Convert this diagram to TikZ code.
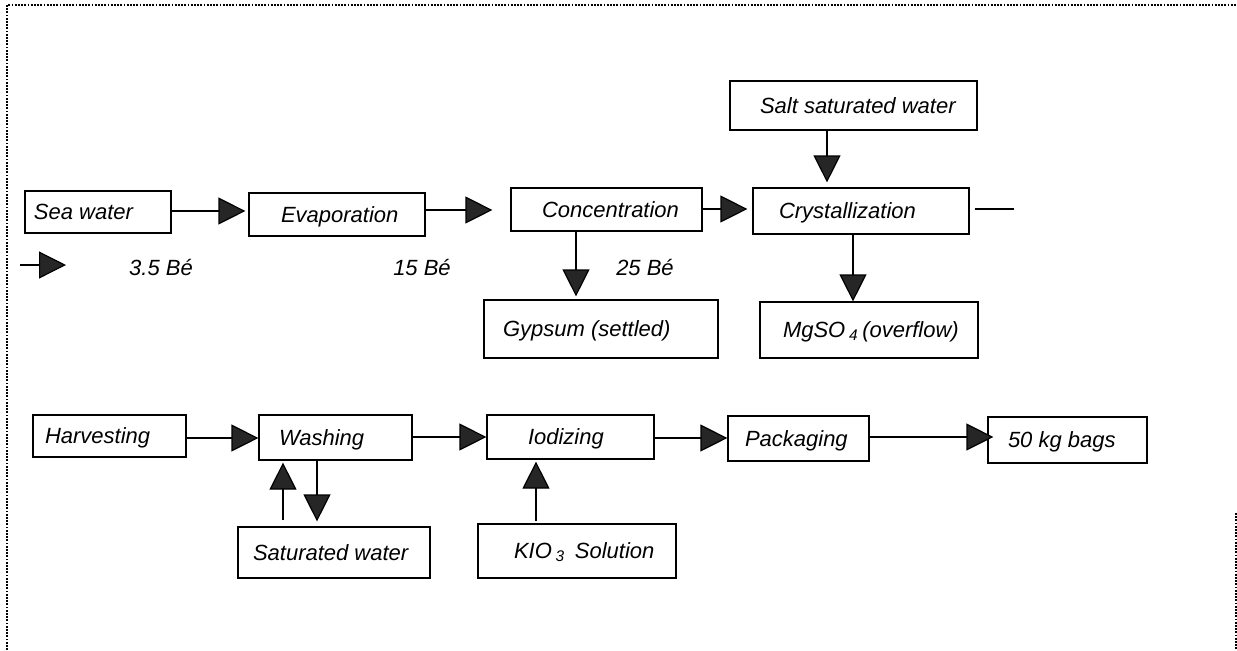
\documentclass[tikz,border=0pt]{standalone}
\usepackage{fontspec}
\setmainfont{Liberation Sans}
\usetikzlibrary{arrows.meta}
% box content: total width #1, text starting #2 from the left edge
\newcommand\procbox[3]{\makebox[#1pt][l]{\hspace*{#2pt}#3}}
\begin{document}
\begin{tikzpicture}[x=0.5pt,y=-0.5pt,
  proc/.style={draw, line width=0.6pt, inner sep=0pt, text height=7.6pt, text depth=-0.4pt,
    font=\itshape\fontsize{11}{13}\selectfont},
  note/.style={inner sep=0pt, text height=7.6pt, text depth=0pt, font=\itshape\fontsize{11}{13}\selectfont},
  flow/.style={line width=0.6pt, -{Triangle[length=13.5pt,width=13.5pt,fill=black!85]}},
  plain/.style={line width=0.6pt},
  frame/.style={line width=0.9pt, dash pattern=on 0.9pt off 0.7pt}]
\useasboundingbox (0,0) rectangle (1237,650);

% dotted frame
\coordinate (fbl) at (7,650);
\coordinate (ftl) at (7,5);
\coordinate (ftr) at (1236,5);
\coordinate (frt) at (1236,513);
\coordinate (frb) at (1236,650);
\draw[frame] (fbl) -- (ftl) -- (ftr);
\draw[frame] (frt) -- (frb);

% upper process line
\node[proc, minimum height=21pt]   (sea)   at (98,212)     {\procbox{73}{4.5}{Sea water}};
\node[proc, minimum height=21.5pt] (evap)  at (337,214.5)  {\procbox{88}{16}{Evaporation}};
\node[proc, minimum height=21.5pt] (conc)  at (606.5,209.5){\procbox{95.5}{15.5}{Concentration}};
\node[proc, minimum height=23pt]   (cryst) at (861,211)    {\procbox{108}{13}{Crystallization}};
\node[proc, minimum height=24.5pt] (salt)  at (853.5,105.5){\procbox{123.5}{15}{Salt saturated water}};
\node[proc, minimum height=29pt]   (gyps)  at (601,329)    {\procbox{117}{9.5}{Gypsum (settled)}};
\node[proc, minimum height=28pt]   (mgso)  at (869,330)    {\procbox{109}{11.5}{MgSO\,\textsubscript{4}\,(overflow)}};

% density labels
\node[note] (be1) at (161,268) {3.5 Bé};
\node[note] (be2) at (422,268) {15 Bé};
\node[note] (be3) at (645,268) {25 Bé};

% lower process line
\node[proc, minimum height=21pt]   (harv) at (109.5,436)  {\procbox{76.5}{6}{Harvesting}};
\node[proc, minimum height=22.5pt] (wash) at (335.5,437.5){\procbox{76.5}{10}{Washing}};
\node[proc, minimum height=22pt]   (iod)  at (570.5,437)  {\procbox{83.5}{20.5}{Iodizing}};
\node[proc, minimum height=22.5pt] (pack) at (798.5,438.5){\procbox{70.5}{8.5}{Packaging}};
\node[proc, minimum height=23pt]   (bags) at (1067.5,440) {\procbox{79.5}{10}{50 kg bags}};
\node[proc, minimum height=25.5pt] (satw) at (334,552.5)  {\procbox{96}{7.5}{Saturated water}};
\node[proc, minimum height=27pt]   (kio)  at (577,551)    {\procbox{99}{18}{KIO\,\textsubscript{3}\, Solution}};

% upper connectors
\draw[flow, shorten >=1.5pt] (sea.east |- 0,211) -- (evap.west |- 0,211);
\draw[flow, shorten >=9pt]   (evap.east |- 0,210) -- (conc.west |- 0,210);
\draw[flow, shorten >=2.5pt] (conc.east |- 0,209) -- (cryst.west |- 0,209);
\draw[flow, shorten >=2.5pt] (827,0 |- salt.south) -- (827,0 |- cryst.north);
\draw[flow, shorten >=1.5pt] (576,0 |- conc.south) -- (576,0 |- gyps.north);
\draw[flow] (853,0 |- cryst.south) -- (853,0 |- mgso.north);
\coordinate (cryout) at (1014,209);
\draw[plain, shorten <=2.5pt] (cryst.east |- 0,209) -- (cryout);
\coordinate (feedA) at (20,265);
\coordinate (feedB) at (66,265);
\draw[flow] (feedA) -- (feedB);

% lower connectors
\draw[flow] (harv.east |- 0,438) -- (wash.west |- 0,438);
\draw[flow] (wash.east |- 0,437) -- (iod.west |- 0,437);
\draw[flow] (iod.east |- 0,438) -- (pack.west |- 0,438);
\draw[flow, shorten >=-3pt] (pack.east |- 0,437) -- (bags.west |- 0,437);
\draw[flow, shorten <=3pt, shorten >=1pt] (283,0 |- satw.north) -- (283,0 |- wash.south);
\draw[flow, shorten >=2.5pt] (317,0 |- wash.south) -- (317,0 |- satw.north);
\draw[flow, shorten <=1pt, shorten >=1pt] (536,0 |- kio.north) -- (536,0 |- iod.south);
\end{tikzpicture}
\end{document}
